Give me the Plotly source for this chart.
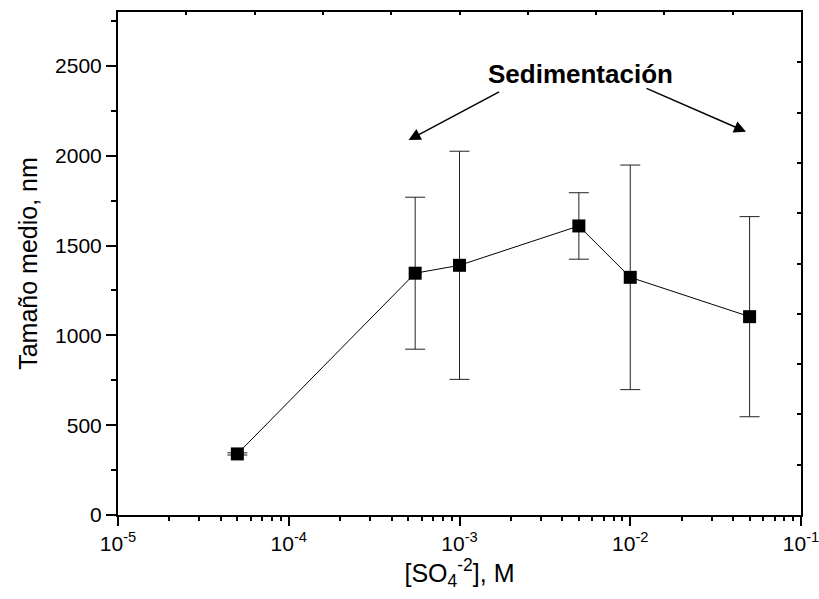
import plotly.graph_objects as go

# Sulfate concentration (M) and mean particle size (nm) with standard deviation
conc = [5e-5, 5.5e-4, 1e-3, 5e-3, 1e-2, 5e-2]
size_nm = [340, 1346, 1390, 1609, 1323, 1104]
size_err = [6, 423, 635, 185, 625, 557]

x_tickvals = [1e-5, 1e-4, 1e-3, 1e-2, 1e-1]
x_ticktext = ["10<sup>-5</sup>", "10<sup>-4</sup>", "10<sup>-3</sup>",
              "10<sup>-2</sup>", "10<sup>-1</sup>"]
x_minor = [m * d for d in [1e-5, 1e-4, 1e-3, 1e-2] for m in range(2, 10)]
y_tickvals = [0, 500, 1000, 1500, 2000, 2500]

FONT = "Liberation Sans, Arial, sans-serif"

fig = go.Figure()

fig.add_trace(go.Scatter(
    x=conc, y=size_nm,
    mode="lines+markers",
    line=dict(color="black", width=1),
    marker=dict(symbol="square", size=13, color="black"),
    error_y=dict(type="data", array=size_err, visible=True,
                 color="#222222", thickness=1, width=10),
    showlegend=False, hoverinfo="skip",
))

# frame axes on the top and right (ticks pointing inward)
fig.add_trace(go.Scatter(x=[None], y=[None], xaxis="x2", yaxis="y2",
                         showlegend=False, hoverinfo="skip"))

fig.update_layout(
    width=819, height=599,
    margin=dict(l=118, r=18, t=12, b=84, autoexpand=False),
    paper_bgcolor="white", plot_bgcolor="white",
    font=dict(family=FONT, color="black", size=21),
    xaxis=dict(
        type="log", range=[-5, -1], automargin=False,
        ticklabeloverflow="allow",
        tickvals=x_tickvals, ticktext=x_ticktext,
        ticks="outside", ticklen=9, tickwidth=2, tickcolor="black",
        minor=dict(tickvals=x_minor, ticks="outside", ticklen=4,
                   tickwidth=2, tickcolor="black", showgrid=False),
        showline=True, linewidth=2, linecolor="black",
        showgrid=False, zeroline=False,
        tickfont=dict(size=21),
        title=dict(text="[SO<sub>4</sub><sup>-2</sup>], M",
                   font=dict(size=25), standoff=6),
    ),
    yaxis=dict(
        range=[0, 2800], automargin=False,
        tickvals=y_tickvals,
        ticks="outside", ticklen=10, tickwidth=2, tickcolor="black",
        minor=dict(dtick=250, ticks="outside", ticklen=5,
                   tickwidth=2, tickcolor="black", showgrid=False),
        showline=True, linewidth=2, linecolor="black",
        showgrid=False, zeroline=False,
        tickfont=dict(size=21),
        title=dict(text="Tamaño medio, nm", font=dict(size=25), standoff=10),
    ),
    xaxis2=dict(
        overlaying="x", side="top", range=[0, 10], dtick=1,
        ticks="inside", ticklen=3, tickwidth=2, tickcolor="black",
        showticklabels=False, showline=True, linewidth=2,
        linecolor="black", showgrid=False, zeroline=False,
    ),
    yaxis2=dict(
        overlaying="y", side="right", range=[0, 10], dtick=1,
        ticks="inside", ticklen=4, tickwidth=2, tickcolor="black",
        showticklabels=False, showline=True, linewidth=2,
        linecolor="black", showgrid=False, zeroline=False,
    ),
)

fig.add_annotation(
    text="<b>Sedimentación</b>", xref="paper", yref="paper",
    x=0.677, y=0.877, xanchor="center", yanchor="middle",
    showarrow=False, font=dict(size=26, family=FONT),
)
for hx, hy, ax, ay in [(0.4255, 0.7455, 92, -49), (0.9195, 0.762, -101, -44)]:
    fig.add_annotation(
        text="", xref="paper", yref="paper", x=hx, y=hy,
        ax=ax, ay=ay, showarrow=True, arrowhead=2, arrowsize=1.6,
        arrowwidth=1.5, arrowcolor="black", standoff=0,
    )

fig.write_html("out.html")
